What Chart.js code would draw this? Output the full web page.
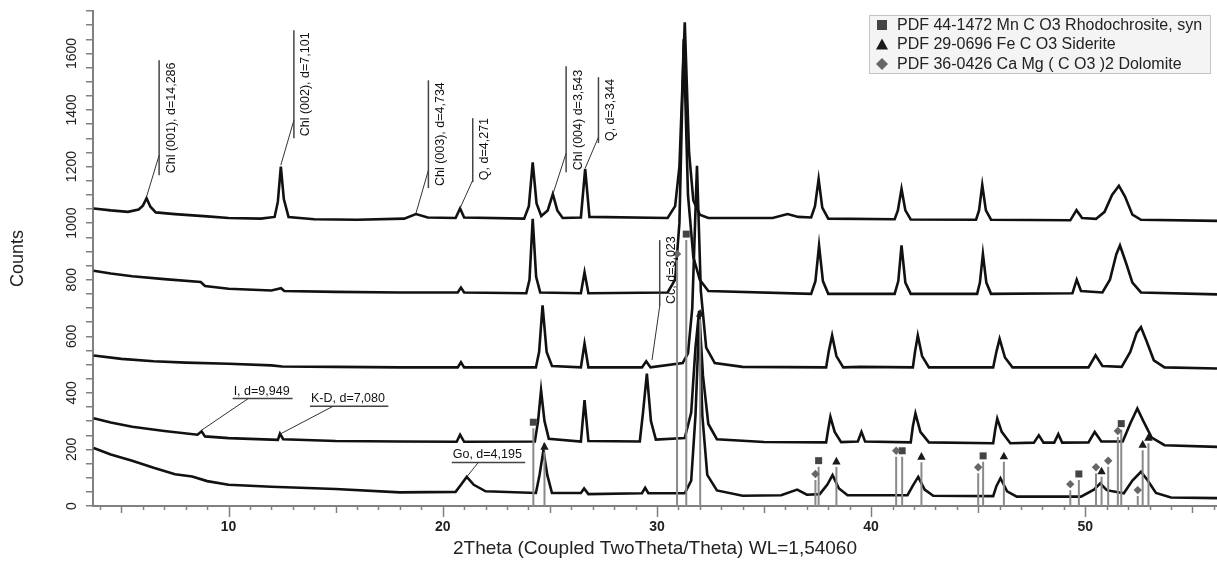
<!DOCTYPE html>
<html>
<head>
<meta charset="utf-8">
<script src="https://cdn.jsdelivr.net/npm/chart.js@4.4.0/dist/chart.umd.min.js"></script>
<style>
  html, body { margin: 0; padding: 0; background: #fff; }
  #wrap { width: 1217px; height: 564px; position: relative; }
</style>
</head>
<body>
<div id="wrap"><canvas id="xrd"></canvas></div>
<script>
// Stacked XRD patterns: [2Theta, counts]
const trace1 = [[3.7,1052],[4.5,1045],[5.3,1040],[5.8,1048],[6.0,1062],[6.17,1088],[6.35,1058],[6.6,1038],[7.5,1032],[9,1024],[10,1018],[11.5,1016],[12.15,1022],[12.3,1075],[12.44,1200],[12.58,1085],[12.8,1022],[14,1014],[16,1012],[18.2,1016],[18.75,1032],[19.3,1020],[20.6,1018],[20.81,1052],[21.0,1020],[23.8,1016],[24.02,1060],[24.2,1215],[24.38,1070],[24.6,1025],[24.9,1045],[25.14,1103],[25.35,1045],[25.6,1018],[26.45,1020],[26.65,1192],[26.85,1022],[30.5,1018],[30.85,1060],[31.05,1200],[31.3,1710],[31.5,1250],[31.7,1080],[32.0,1030],[32.4,1018],[35.4,1018],[36.1,1032],[36.6,1022],[37.2,1020],[37.38,1060],[37.55,1156],[37.72,1055],[38.0,1016],[41.1,1014],[41.25,1045],[41.42,1121],[41.6,1045],[41.85,1013],[44.9,1012],[45.04,1045],[45.19,1135],[45.36,1045],[45.6,1012],[49.3,1010],[49.59,1046],[49.85,1018],[50.5,1015],[50.9,1040],[51.25,1100],[51.57,1132],[51.85,1095],[52.2,1030],[52.6,1012],[56.15,1008]];
const trace2 = [[3.7,832],[4.5,822],[5.5,812],[7,802],[8.7,792],[8.9,778],[10,768],[12,762],[12.45,770],[12.6,760],[15,757],[18,755],[20.7,755],[20.85,772],[21.0,755],[23.9,752],[24.05,800],[24.2,1015],[24.36,810],[24.55,755],[26.45,752],[26.62,826],[26.8,752],[30.5,755],[30.85,800],[31.05,1000],[31.25,1650],[31.45,1100],[31.7,880],[32.0,800],[32.4,760],[37.2,750],[37.4,795],[37.57,921],[37.75,795],[38.0,750],[41.1,750],[41.27,795],[41.42,921],[41.6,790],[41.85,750],[44.95,750],[45.08,790],[45.22,891],[45.38,790],[45.6,750],[49.4,752],[49.6,800],[49.8,760],[50.8,755],[51.15,800],[51.45,890],[51.62,921],[51.9,860],[52.2,790],[52.6,755],[56.15,748]];
const trace3 = [[3.7,532],[5,520],[6.5,512],[8,507],[10,503],[12,497],[12.5,493],[15,492],[18,490],[20.7,490],[20.85,508],[21.0,490],[24.35,490],[24.5,545],[24.66,709],[24.85,545],[25.1,495],[26.45,490],[26.62,574],[26.8,490],[29.3,490],[29.5,512],[29.7,490],[31.2,505],[31.45,540],[31.65,700],[31.87,1203],[32.05,760],[32.3,560],[32.7,505],[34,492],[37.9,490],[38.02,545],[38.18,603],[38.38,530],[38.7,490],[39.5,492],[41.95,490],[42.05,545],[42.18,603],[42.38,530],[42.7,490],[45.7,490],[45.85,545],[46.0,591],[46.25,525],[46.6,490],[50.15,490],[50.48,533],[50.8,495],[51.7,492],[52.1,545],[52.4,612],[52.6,632],[52.85,585],[53.2,515],[53.7,490],[56.15,486]];
const trace4 = [[3.7,310],[4.5,295],[5.5,280],[7,265],[8.55,252],[8.74,264],[8.9,246],[10,240],[12.3,234],[12.4,256],[12.55,236],[15,230],[18,228],[20.65,227],[20.81,252],[21.0,227],[24.3,228],[24.45,300],[24.59,409],[24.75,300],[24.95,238],[26.45,228],[26.62,374],[26.8,230],[29.2,228],[29.35,330],[29.53,468],[29.72,300],[29.95,235],[31.3,240],[31.6,330],[31.8,560],[31.97,690],[32.15,460],[32.4,290],[32.8,236],[35,226],[37.9,225],[38.0,272],[38.1,315],[38.3,262],[38.6,226],[39.38,228],[39.55,262],[39.72,228],[41.85,225],[41.95,282],[42.07,327],[42.3,262],[42.7,225],[45.7,222],[45.8,272],[45.89,309],[46.1,262],[46.5,222],[47.6,224],[47.83,250],[48.05,224],[48.55,224],[48.74,254],[48.92,224],[50.15,225],[50.44,262],[50.75,228],[51.75,228],[52.1,292],[52.43,345],[52.7,302],[53.1,242],[53.7,215],[56.15,209]];
const trace5 = [[3.7,205],[4.5,182],[5.5,160],[6.5,135],[7.5,112],[8.3,104],[9,88],[10,75],[12,68],[15,60],[18,48],[20.6,50],[20.85,75],[21.12,103],[21.45,75],[22,52],[24.35,46],[24.52,110],[24.7,197],[24.88,110],[25.1,46],[26.45,46],[26.6,62],[26.8,42],[29.3,45],[29.45,64],[29.6,45],[31.3,45],[31.6,90],[31.8,320],[31.97,660],[32.12,320],[32.35,110],[32.8,55],[34,36],[35.8,38],[36.55,58],[37.0,40],[37.6,42],[37.95,75],[38.2,109],[38.5,62],[38.9,38],[41.7,38],[41.95,72],[42.2,103],[42.5,58],[42.9,36],[45.7,35],[45.85,70],[46.04,98],[46.35,52],[46.8,33],[49.8,33],[50.4,58],[50.7,80],[51.0,56],[51.8,45],[52.2,90],[52.6,121],[52.9,92],[53.3,46],[54,30],[56.15,28]];

// reference sticks [2Theta, height]
const rhodochrosite = [[24.23,275],[31.37,940],[37.55,139],[41.45,174],[45.23,156],[49.7,92],[51.68,270]];
const siderite = [[24.75,190],[32.02,660],[38.38,138],[42.35,155],[46.2,156],[50.76,103],[52.68,197],[52.95,222]];
const dolomite = [[30.94,870],[37.4,92],[41.17,174],[45.0,116],[49.3,56],[50.5,116],[51.07,139],[51.52,244],[52.45,35]];
const phaseNames = ['PDF 44-1472 Mn C O3 Rhodochrosite, syn', 'PDF 29-0696 Fe C O3 Siderite', 'PDF 36-0426 Ca Mg ( C O3 )2 Dolomite'];

const xTickLabels = [10, 20, 30, 40, 50];
const yTickLabels = [0, 200, 400, 600, 800, 1000, 1200, 1400, 1600];

// vertical peak labels: bar at x, from top to bottom (counts), leader to peak
const peakNotes = [
  { text: 'Chl (001), d=14,286', x: 6.757, top: 1576, bottom: 1169, from: 1240, to: [6.17, 1093] },
  { text: 'Chl (002), d=7,101', x: 13.05, top: 1682, bottom: 1300, from: 1364, to: [12.44, 1205] },
  { text: 'Chl (003), d=4,734', x: 19.33, top: 1505, bottom: 1124, from: 1187, to: [18.75, 1035] },
  { text: 'Q, d=4,271', x: 21.40, top: 1371, bottom: 1145, from: 1152, to: [20.81, 1053] },
  { text: 'Chl (004) d=3,543', x: 25.76, top: 1555, bottom: 1180, from: 1247, to: [25.14, 1102] },
  { text: 'Q, d=3,344', x: 27.27, top: 1516, bottom: 1283, from: 1304, to: [26.65, 1194] },
  { text: 'Cc, d=3,023', x: 30.13, top: 940, bottom: 707, from: 707, to: [29.77, 516] }
];
// horizontal labels with underline
const flatNotes = [
  { text: 'I, d=9,949', x1: 10.19, x2: 12.99, y: 380, from: 10.92, to: [8.74, 268] },
  { text: 'K-D, d=7,080', x1: 13.8, x2: 17.46, y: 353, from: 14.89, to: [12.40, 254] },
  { text: 'Go, d=4,195', x1: 20.42, x2: 23.85, y: 154, from: 21.66, to: [21.12, 103] }
];

const FONT = '"Liberation Sans", Arial, sans-serif';
Chart.defaults.font.family = FONT;

function toPts(arr) { return arr.map(([x, y]) => ({ x, y })); }
function stickPts(arr) {
  const pts = [];
  arr.forEach(([x, h]) => { pts.push({ x, y: 0 }, { x, y: h }, { x, y: null }); });
  return pts;
}

function drawMarker(ctx, kind, cx, cy, s) {
  ctx.beginPath();
  if (kind === 0) {
    ctx.fillStyle = '#444';
    ctx.rect(cx - s, cy - s, 2 * s, 2 * s);
  } else if (kind === 1) {
    ctx.fillStyle = '#1a1a1a';
    ctx.moveTo(cx, cy - s * 1.2); ctx.lineTo(cx + s * 1.2, cy + s); ctx.lineTo(cx - s * 1.2, cy + s); ctx.closePath();
  } else {
    ctx.fillStyle = '#666';
    ctx.moveTo(cx, cy - s * 1.2); ctx.lineTo(cx + s * 1.2, cy); ctx.lineTo(cx, cy + s * 1.2); ctx.lineTo(cx - s * 1.2, cy); ctx.closePath();
  }
  ctx.fill();
}

const decor = {
  id: 'decor',
  afterDatasetsDraw(chart) {
    const { ctx, chartArea, scales: { x, y } } = chart;
    ctx.save();

    // minor/major ticks on x
    ctx.strokeStyle = '#808080';
    ctx.lineWidth = 1.5;
    for (let v = Math.ceil(x.min); v <= Math.floor(x.max); v++) {
      const px = Math.round(x.getPixelForValue(v)) + 0.5;
      const len = v % 10 === 0 ? 11 : (v % 5 === 0 ? 7 : 4);
      ctx.beginPath();
      ctx.moveTo(px, chartArea.bottom);
      ctx.lineTo(px, chartArea.bottom + len);
      ctx.stroke();
    }

    // rotated y labels
    ctx.fillStyle = '#222';
    ctx.font = '14px ' + FONT;
    ctx.textAlign = 'center';
    ctx.textBaseline = 'middle';
    yTickLabels.forEach(v => {
      ctx.save();
      ctx.translate(72, y.getPixelForValue(v));
      ctx.rotate(-Math.PI / 2);
      ctx.fillText(String(v), 0, 0);
      ctx.restore();
    });

    // stick markers
    [rhodochrosite, siderite, dolomite].forEach((list, k) => {
      list.forEach(([sx, h]) => drawMarker(ctx, k, x.getPixelForValue(sx), y.getPixelForValue(h) - 6, 3.5));
    });

    // vertical peak notes
    ctx.font = '12.5px ' + FONT;
    ctx.fillStyle = '#111';
    peakNotes.forEach(n => {
      const bx = x.getPixelForValue(n.x);
      ctx.strokeStyle = '#444';
      ctx.lineWidth = 1.5;
      ctx.beginPath();
      ctx.moveTo(bx, y.getPixelForValue(n.top));
      ctx.lineTo(bx, y.getPixelForValue(n.bottom));
      ctx.stroke();
      ctx.strokeStyle = '#333';
      ctx.lineWidth = 1;
      ctx.beginPath();
      ctx.moveTo(bx, y.getPixelForValue(n.from));
      ctx.lineTo(x.getPixelForValue(n.to[0]), y.getPixelForValue(n.to[1]));
      ctx.stroke();
      ctx.save();
      ctx.translate(bx + 12, y.getPixelForValue(n.bottom) - 2);
      ctx.rotate(-Math.PI / 2);
      ctx.textAlign = 'left';
      ctx.textBaseline = 'middle';
      ctx.fillText(n.text, 0, 0);
      ctx.restore();
    });

    // horizontal notes
    flatNotes.forEach(n => {
      const x1 = x.getPixelForValue(n.x1), x2 = x.getPixelForValue(n.x2);
      const uy = y.getPixelForValue(n.y);
      ctx.strokeStyle = '#444';
      ctx.lineWidth = 1.5;
      ctx.beginPath(); ctx.moveTo(x1, uy); ctx.lineTo(x2, uy); ctx.stroke();
      ctx.strokeStyle = '#333';
      ctx.lineWidth = 1;
      ctx.beginPath();
      ctx.moveTo(x.getPixelForValue(n.from), uy);
      ctx.lineTo(x.getPixelForValue(n.to[0]), y.getPixelForValue(n.to[1]));
      ctx.stroke();
      ctx.textAlign = 'left';
      ctx.textBaseline = 'alphabetic';
      ctx.fillText(n.text, x1 + 1, uy - 4);
    });

    // legend box
    const lx = 869.5, ly = 15.5, lw = 341, lh = 58;
    ctx.fillStyle = '#f4f4f4';
    ctx.fillRect(lx, ly, lw, lh);
    ctx.strokeStyle = '#c4c4c4';
    ctx.lineWidth = 1;
    ctx.strokeRect(lx, ly, lw, lh);
    ctx.font = '16px ' + FONT;
    phaseNames.forEach((name, i) => {
      const ry = 25 + i * 19.5;
      drawMarker(ctx, i, 882, ry, 5);
      ctx.fillStyle = '#222';
      ctx.textAlign = 'left';
      ctx.textBaseline = 'middle';
      ctx.fillText(name, 897, ry + 0.5);
    });

    ctx.restore();
  }
};

const traceStyle = { showLine: true, pointRadius: 0, borderColor: '#111', borderWidth: 2.6, tension: 0, fill: false };
const stickStyle = { showLine: true, pointRadius: 0, borderColor: '#8a8a8a', borderWidth: 2, spanGaps: false, fill: false };

new Chart(document.getElementById('xrd'), {
  type: 'scatter',
  data: {
    datasets: [
      { ...stickStyle, data: stickPts(rhodochrosite) },
      { ...stickStyle, data: stickPts(siderite) },
      { ...stickStyle, data: stickPts(dolomite) },
      { ...traceStyle, data: toPts(trace1) },
      { ...traceStyle, data: toPts(trace2) },
      { ...traceStyle, data: toPts(trace3) },
      { ...traceStyle, data: toPts(trace4) },
      { ...traceStyle, data: toPts(trace5) }
    ]
  },
  options: {
    responsive: true,
    maintainAspectRatio: false,
    animation: false,
    layout: { padding: { top: 11, right: 0, left: 0, bottom: 0 } },
    plugins: { legend: { display: false }, tooltip: { enabled: false } },
    scales: {
      x: {
        type: 'linear',
        min: 3.67,
        max: 56.15,
        afterFit: s => { s.height = 58; },
        afterBuildTicks: s => { s.ticks = xTickLabels.map(v => ({ value: v })); },
        grid: { display: false, drawTicks: false },
        border: { display: true, color: '#808080', width: 2 },
        ticks: { color: '#222', font: { size: 14, weight: 'bold' }, padding: 13, maxRotation: 0, autoSkip: false },
        title: { display: true, text: '2Theta (Coupled TwoTheta/Theta) WL=1,54060', color: '#222', font: { size: 19 }, padding: { top: 0, bottom: 4 } }
      },
      y: {
        min: 0,
        max: 1750,
        afterFit: s => { s.width = 93; },
        grid: { display: true, drawOnChartArea: false, drawTicks: true, tickLength: 7, color: '#808080', lineWidth: 1.5 },
        border: { display: true, color: '#808080', width: 2 },
        ticks: { stepSize: 50, display: false },
        title: { display: true, text: 'Counts', color: '#222', font: { size: 18 }, padding: { top: 7, bottom: 0 } }
      }
    }
  },
  plugins: [decor]
});
</script>
</body>
</html>
